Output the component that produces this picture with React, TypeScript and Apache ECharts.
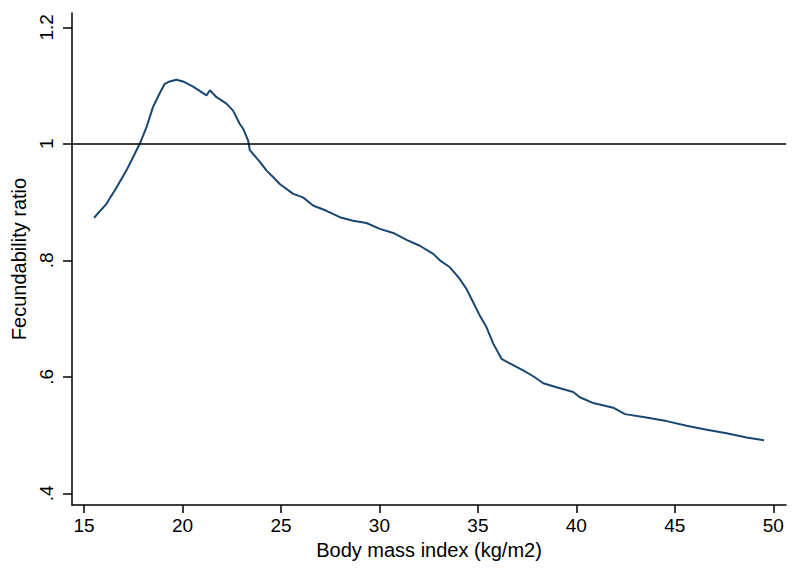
import React, { useEffect, useRef } from "react";
import * as echarts from "echarts";

const bmi = [
  15.51, 16.14, 16.65, 17.15, 17.49, 17.83, 18.17, 18.5, 18.83, 19.1, 19.35, 19.69,
  20.03, 20.54, 21.22, 21.39, 21.73, 22.23, 22.57, 22.91, 23.08, 23.33, 23.42, 23.93,
  24.27, 24.6, 24.94, 25.62, 26.12, 26.63, 27.31, 27.99, 28.66, 29.34, 30.02, 30.7,
  31.38, 32.05, 32.73, 33.07, 33.58, 34.08, 34.42, 34.76, 35.1, 35.44, 35.78, 36.2,
  36.62, 37.3, 37.81, 38.32, 38.99, 39.84, 40.18, 40.86, 41.87, 42.47, 43.4, 44.58,
  45.6, 46.62, 47.63, 48.65, 49.53,
];
const ratio = [
  0.873, 0.897, 0.925, 0.954, 0.977, 1.0, 1.028, 1.063, 1.086, 1.103, 1.107, 1.11,
  1.107, 1.098, 1.083, 1.092, 1.08, 1.069, 1.057, 1.034, 1.026, 1.006, 0.989, 0.969,
  0.954, 0.943, 0.931, 0.914, 0.908, 0.894, 0.885, 0.874, 0.868, 0.864, 0.854, 0.847,
  0.835, 0.825, 0.811, 0.8, 0.788, 0.768, 0.751, 0.728, 0.705, 0.685, 0.657, 0.631,
  0.623, 0.611, 0.601, 0.589, 0.582, 0.574, 0.565, 0.555, 0.547, 0.536, 0.531, 0.524,
  0.516, 0.509, 0.503, 0.496, 0.491,
];
const xTicks = [15, 20, 25, 30, 35, 40, 45, 50];
const yTicks = [0.4, 0.6, 0.8, 1.0, 1.2];
const referenceValue = 1;

const fmtY = (v: number) => {
  const s = String(Math.round(v * 10) / 10);
  return s.startsWith("0.") ? s.slice(1) : s;
};

export default function App() {
  const ref = useRef<HTMLDivElement>(null);
  useEffect(() => {
    if (!ref.current) return;
    const chart = echarts.init(ref.current, undefined, { renderer: "svg" });
    const font = "Liberation Sans, Arial, sans-serif";
    chart.setOption({
      animation: false,
      backgroundColor: "#ffffff",
      grid: { left: 72, right: 14, top: 13, bottom: 69, containLabel: false },
      xAxis: {
        type: "value",
        min: 14.39,
        max: 50.645,
        name: "Body mass index (kg/m2)",
        nameLocation: "middle",
        nameGap: 31,
        nameTextStyle: { fontFamily: font, fontSize: 20, color: "#000" },
        axisLine: { show: true, lineStyle: { color: "#000", width: 1.5 } },
        axisTick: {
          show: true,
          inside: false,
          length: 8,
          lineStyle: { color: "#000", width: 1.5 },
          customValues: xTicks,
        },
        axisLabel: {
          fontFamily: font,
          fontSize: 19,
          color: "#000",
          margin: 11,
          customValues: xTicks,
        },
        splitLine: { show: false },
      },
      yAxis: {
        type: "value",
        min: 0.38,
        max: 1.2245,
        name: "Fecundability ratio",
        nameLocation: "middle",
        nameGap: 43,
        nameRotate: 90,
        nameTextStyle: { fontFamily: font, fontSize: 20, color: "#000" },
        axisLine: { show: true, lineStyle: { color: "#000", width: 1.5 } },
        axisTick: {
          show: true,
          inside: false,
          length: 9,
          lineStyle: { color: "#000", width: 1.5 },
          customValues: yTicks,
        },
        axisLabel: {
          fontFamily: font,
          fontSize: 19,
          color: "#000",
          rotate: 90,
          margin: 16,
          customValues: yTicks,
          formatter: (v: number) => fmtY(v),
        },
        splitLine: { show: false },
      },
      series: [
        {
          type: "line",
          data: bmi.map((x, i) => [x, ratio[i]]),
          showSymbol: false,
          symbol: "none",
          lineStyle: { color: "#1a476f", width: 2 },
          markLine: {
            silent: true,
            symbol: ["none", "none"],
            label: { show: false },
            lineStyle: { color: "#000", width: 1.5, type: "solid" },
            data: [{ yAxis: referenceValue }],
          },
        },
      ],
    });
    return () => chart.dispose();
  }, []);
  return (
    <div
      ref={ref}
      style={{ position: "fixed", left: 0, top: 0, width: 800, height: 574 }}
    />
  );
}
